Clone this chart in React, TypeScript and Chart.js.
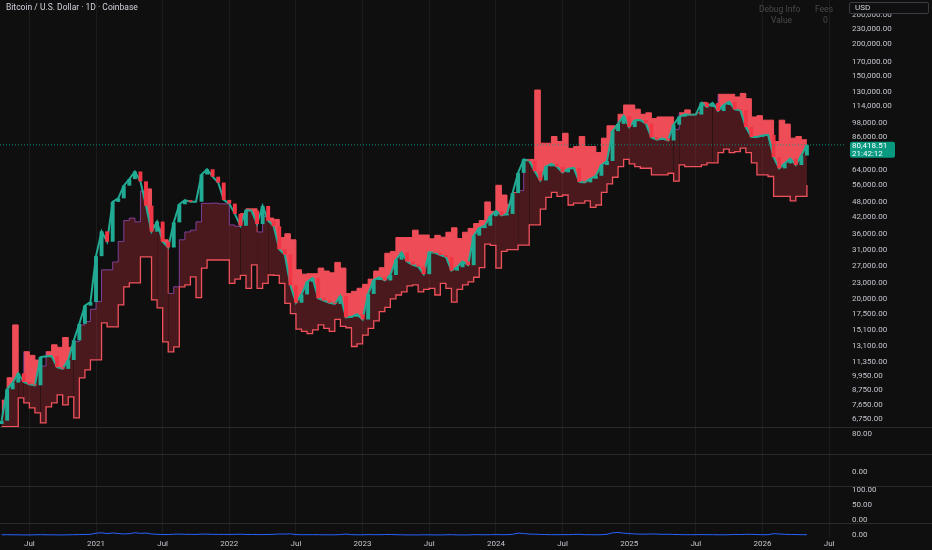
import { useEffect, useRef } from "react";
import { Chart, registerables } from "chart.js";

Chart.register(...registerables);

// semi-monthly sample dates (1st and 15th), 15 Apr 2020 .. 1 May 2026
const DATES: string[] = [];
for (let yr = 2020; yr <= 2026; yr++) {
  for (let m = 1; m <= 12; m++) {
    for (const d of [1, 15]) {
      if (yr === 2020 && (m < 4 || (m === 4 && d === 1))) continue;
      if (yr === 2026 && (m > 5 || (m === 5 && d === 15))) continue;
      DATES.push(`${yr}-${String(m).padStart(2, "0")}-${String(d).padStart(2, "0")}`);
    }
  }
}

// BTC close
const CLOSE = [
  6650, 8830, 9380, 10200, 9430, 9230, 9150, 11800, 11900, 11920, 10780, 10620, 11500, 13740, 15960, 18800, 19430,
  29400, 36800, 33500, 48000, 49600, 55600, 59000, 63200, 57800, 46400, 36700, 40200, 33500, 31800, 39900, 47000,
  48800, 48100, 48100, 61500, 64500, 60300, 57200, 48900,
  47300, 43100, 38700, 44500, 44400, 39300, 46300, 40500, 38500, 31300, 29800, 22600, 19300, 20800, 23300, 24100,
  20100, 19700, 19300, 19100, 20500, 16900, 17000, 17400,
  16600, 20900, 23700, 24300, 23600, 24800, 28500, 30400, 28000, 27200, 26800, 25000, 30500, 30300, 29700, 29200,
  25800, 26600, 28000, 27100, 35400, 37900, 38700, 42200,
  44200, 42500, 43100, 52000, 62400, 70500, 69700, 63400, 58300, 66200, 67700, 66000, 62700, 64700, 65300, 57600,
  57300, 59200, 60800, 67000, 69500, 91000, 97200, 104400,
  94400, 100500, 100600, 97500, 86000, 84300, 85100, 83600, 96500, 103700, 105800, 105500, 105700, 117700, 113300,
  117400, 109200, 115300, 118600, 110800, 110000, 94500, 86300, 86400,
  87500, 88000, 72000, 65000, 68000, 71000, 67000, 73000, 80418.51,
];

// upper stepped band
const UPPER = [
  8000, 9800, 15800, 9600, 12400, 12000, 11500, 10900, 12400, 13200, 12900, 14100, 12900, 13600, 15800, 16300, 18200,
  19500, 26000, 26000, 27900, 33600, 40600, 41500, 40100, 53000, 54000, 39000, 37700, 34100, 21000, 22300, 34100,
  36600, 37200, 40100, 47400, 47400, 47500, 47200, 47200,
  39000, 38500, 43200, 45100, 45100, 36600, 42100, 41500, 41000, 34800, 36000, 34100, 26000, 25000, 25100, 25100,
  26400, 25700, 25300, 27800, 26400, 21000, 21400, 22000,
  22800, 23900, 25700, 26500, 30200, 30700, 34800, 34800, 34800, 37200, 35600, 35600, 34400, 35500, 34900, 36500,
  38000, 34500, 36500, 37800, 39500, 40600, 48000, 44100,
  55800, 51100, 47000, 52300, 53200, 70500, 70500, 132000, 81600, 81600, 86700, 82900, 89300, 77900, 79200, 86700,
  79200, 79200, 75000, 85400, 95500, 95500, 106000, 115300,
  115300, 111000, 106000, 107400, 102000, 103500, 103500, 103500, 92500, 107400, 110300, 106000, 107400, 118000,
  115300, 115300, 127000, 127000, 127000, 124000, 128000, 122000, 103500, 104700,
  100500, 100500, 82900, 100500, 97000, 85400, 86700, 84200, 84200,
];

// lower stepped band
const LOWER = [
  6300, 6300, 6300, 8170, 7810, 7470, 7140, 6520, 7530, 7810, 8400, 7670, 8250, 6820, 9790, 10520, 11520,
  11520, 16100, 15520, 15520, 18930, 22270, 23090, 23090, 29200, 29200, 19800, 18430, 13560, 12390, 12960, 22300,
  22700, 24400, 20200, 26400, 28400, 28400, 28400, 28400,
  23000, 23900, 24700, 22000, 27200, 22000, 23000, 24800, 24700, 23000, 19200, 17500, 15200, 14900, 14600, 15100,
  15800, 15300, 14900, 16600, 15600, 15400, 13000, 13300,
  14400, 15300, 16400, 17800, 18500, 20000, 20700, 21300, 22500, 22700, 21300, 21800, 22000, 20700, 23000, 22000,
  19400, 21800, 22700, 23300, 24300, 26500, 32800, 32400,
  26400, 30700, 31200, 31200, 32500, 32500, 39000, 39000, 45000, 50000, 52300, 50500, 51100, 46700, 47500, 47500,
  48500, 45700, 46700, 52300, 56500, 60000, 66000, 70500,
  67700, 66000, 65100, 65100, 61300, 61300, 61300, 62200, 57900, 67100, 66000, 66000, 66000, 67100, 68300,
  68300, 74900, 77400, 74900, 75700, 78100, 74900, 68300, 61300,
  61300, 60400, 50500, 50500, 50500, 48500, 50500, 50500, 56000,
];

// bottom pane activity line
const ACTIVITY = [
  0.03, 0.04, 0.03, 0.03, 0.02, 0.02, 0.03, 0.04, 0.03, 0.03, 0.02, 0.02, 0.03, 0.04, 0.05, 0.06, 0.07,
  0.16, 0.2, 0.13, 0.18, 0.14, 0.1, 0.12, 0.2, 0.15, 0.17, 0.1,
  0.07, 0.06, 0.05, 0.08, 0.09, 0.07, 0.07, 0.06, 0.09, 0.08, 0.07, 0.06, 0.07,
  0.06, 0.07, 0.08, 0.06, 0.06, 0.05, 0.05, 0.06, 0.07, 0.1, 0.09, 0.11,
  0.05, 0.04, 0.04, 0.04, 0.04, 0.03, 0.03, 0.03, 0.05, 0.09, 0.04, 0.03,
  0.03, 0.05, 0.04, 0.04, 0.05, 0.06, 0.04, 0.03, 0.02, 0.02, 0.02, 0.03, 0.03, 0.02, 0.02, 0.03, 0.04, 0.02,
  0.02, 0.02, 0.04, 0.04, 0.03, 0.04,
  0.05, 0.04, 0.04, 0.07, 0.17, 0.14, 0.09, 0.08, 0.06, 0.05, 0.04, 0.04,
  0.05, 0.04, 0.06, 0.07, 0.04, 0.04, 0.03, 0.04,
  0.07, 0.19, 0.22, 0.17, 0.13, 0.1, 0.09, 0.08, 0.1, 0.09, 0.07, 0.08,
  0.06, 0.05, 0.04, 0.04, 0.04, 0.05, 0.04, 0.04, 0.03, 0.03, 0.04, 0.06, 0.05, 0.07, 0.07, 0.05,
  0.04, 0.04, 0.12, 0.1, 0.07, 0.06, 0.05, 0.04, 0.04,
];

const PRICE_TICKS = [
  260000, 230000, 200000, 170000, 150000, 130000, 114000, 98000, 86000, 64000, 56000, 48000, 42000, 36000, 31000,
  27000, 23000, 20000, 17500, 15100, 13100, 11350, 9950, 8750, 7650, 6750,
];
const PANE_A_TICKS = [80];
const PANE_B_TICKS = [0];
const PANE_C_TICKS = [100, 50, 0];
const PANE_D_TICKS = [0];
const TIME_TICKS = [2020.5, 2021, 2021.5, 2022, 2022.5, 2023, 2023.5, 2024, 2024.5, 2025, 2025.5, 2026, 2026.5];

const LAST_PRICE = 80418.51;
const COUNTDOWN = "21:42:12";

const XS = DATES.map((d) => {
  const [yr, m, day] = d.split("-").map(Number);
  return yr + (m - 1) / 12 + (day === 15 ? 1 / 24 : 0);
});

const X_MIN = 2020.2798;
const X_MAX = 2026.619;
const AXIS_W = 87;

const BG = "#0f0f0f";
const TEXT = "#c3c6ce";
const BRIGHT = "#ee4d58";
const BAND = "rgba(242, 54, 69, 0.26)";
const LOWER_LINE = "#f0525c";
const PURPLE = "rgba(140, 70, 170, 0.85)";
const GREEN = "#22ab94";
const RED = "#f23645";
const BLUE = "#2962ff";
const FONT = "Roboto, 'Noto Sans', sans-serif";

const fmt = (v: number) => v.toLocaleString("en-US", { minimumFractionDigits: 2, maximumFractionDigits: 2 });
const pts = (vals: number[]) => vals.map((v, i) => ({ x: XS[i], y: v }));
const fixedTicks = (values: number[]) => (scale: any) => {
  scale.ticks = values.map((value) => ({ value }));
};

const yAxis = (extra: any, weight: number, ticks: number[]) => ({
  position: "right",
  stack: "panes",
  stackWeight: weight,
  afterBuildTicks: fixedTicks(ticks),
  afterFit: (s: any) => {
    s.width = AXIS_W;
    s.paddingTop = 0;
    s.paddingBottom = 0;
  },
  grid: { display: false, drawTicks: false },
  border: { display: false },
  ticks: {
    color: TEXT,
    font: { family: FONT, size: 8 },
    padding: 7,
    autoSkip: false,
    callback: (v: any) => fmt(Number(v)),
  },
  ...extra,
});

const panesPlugin = {
  id: "panes",
  beforeDraw(chart: any) {
    const { ctx, width, height } = chart;
    ctx.save();
    ctx.fillStyle = BG;
    ctx.fillRect(0, 0, width, height);
    ctx.restore();
  },
  afterDraw(chart: any) {
    const { ctx, width, chartArea } = chart;
    ctx.save();
    ctx.strokeStyle = "#2a2a2a";
    ctx.lineWidth = 1;
    for (const id of ["yA", "yB", "yC", "yD"]) {
      const top = Math.round(chart.scales[id].top) + 0.5;
      ctx.beginPath();
      ctx.moveTo(0, top);
      ctx.lineTo(width, top);
      ctx.stroke();
    }
    // last price label
    const y = chart.scales.y.getPixelForValue(LAST_PRICE);
    const x0 = chartArea.right + 5;
    ctx.fillStyle = "#089981";
    ctx.beginPath();
    ctx.roundRect(x0, y - 3, 45, 16, 2);
    ctx.fill();
    ctx.fillStyle = "#ffffff";
    ctx.font = `8px ${FONT}`;
    ctx.textBaseline = "middle";
    ctx.textAlign = "left";
    ctx.fillText(fmt(LAST_PRICE), x0 + 2, y + 1);
    ctx.fillText(COUNTDOWN, x0 + 2, y + 9);
    ctx.restore();
  },
};

export default function App() {
  const canvasRef = useRef<HTMLCanvasElement>(null);
  const chartRef = useRef<Chart | null>(null);

  useEffect(() => {
    document.body.style.margin = "0";
    document.body.style.background = BG;
    if (!canvasRef.current) return;
    if (chartRef.current) chartRef.current.destroy();

    chartRef.current = new Chart(canvasRef.current, {
      type: "line",
      data: {
        datasets: [
          {
            label: "Lower",
            data: pts(LOWER),
            stepped: true,
            borderColor: LOWER_LINE,
            borderWidth: 1.3,
            pointRadius: 0,
            fill: { target: 1, above: BAND, below: BAND },
            order: 6,
          },
          {
            label: "Upper",
            data: pts(UPPER),
            stepped: true,
            borderWidth: 1,
            borderColor: PURPLE,
            pointRadius: 0,
            segment: {
              borderColor: (c: any) => (UPPER[c.p0DataIndex] > CLOSE[c.p0DataIndex] ? BRIGHT : PURPLE),
            },
            fill: { target: 2, above: BRIGHT, below: "rgba(0,0,0,0)" },
            order: 5,
          },
          {
            label: "Close",
            data: pts(CLOSE),
            borderColor: GREEN,
            borderWidth: 2,
            pointRadius: 0,
            order: 3,
          },
          {
            type: "bar",
            label: "Candles",
            data: CLOSE.map((c, i) => ({ x: XS[i], y: [i ? CLOSE[i - 1] : c * 0.97, c] })),
            backgroundColor: CLOSE.map((c, i) => (i && c < CLOSE[i - 1] ? RED : GREEN)),
            barPercentage: 0.7,
            categoryPercentage: 1,
            grouped: false,
            order: 2,
          } as any,
          {
            label: "Last",
            data: [
              { x: X_MIN, y: LAST_PRICE },
              { x: X_MAX, y: LAST_PRICE },
            ],
            borderColor: "rgba(8, 153, 129, 0.9)",
            borderDash: [1, 2],
            borderWidth: 1,
            pointRadius: 0,
            order: 0,
          },
          {
            label: "Activity",
            data: pts(ACTIVITY),
            yAxisID: "yD",
            borderColor: BLUE,
            borderWidth: 1,
            pointRadius: 0,
            order: 1,
          },
        ],
      },
      options: {
        animation: false,
        responsive: true,
        maintainAspectRatio: false,
        layout: { padding: 0 },
        plugins: {
          legend: { display: false },
          tooltip: { enabled: false },
        },
        scales: {
          x: {
            type: "linear",
            min: X_MIN,
            max: X_MAX,
            offset: false,
            afterBuildTicks: fixedTicks(TIME_TICKS),
            afterFit: (s: any) => {
              s.height = 13;
              s.paddingLeft = 0;
              s.paddingRight = 0;
            },
            grid: { color: "rgba(255,255,255,0.055)", drawTicks: false, offset: false },
            border: { display: false },
            ticks: {
              color: TEXT,
              font: { family: FONT, size: 8 },
              padding: 2,
              maxRotation: 0,
              autoSkip: false,
              callback: (v: any) => (Number.isInteger(Number(v)) ? String(v) : "Jul"),
            },
          },
          y: yAxis({ type: "logarithmic", min: 6280, max: 297750 }, 427, PRICE_TICKS),
          yA: yAxis({ type: "linear", min: 0, max: 108 }, 27, PANE_A_TICKS),
          yB: yAxis({ type: "linear", min: -0.78, max: 1 }, 32, PANE_B_TICKS),
          yC: yAxis({ type: "linear", min: -10, max: 113 }, 37, PANE_C_TICKS),
          yD: yAxis({ type: "linear", min: -0.15, max: 1 }, 14, PANE_D_TICKS),
        } as any,
      },
      plugins: [panesPlugin],
    });

    return () => {
      if (chartRef.current) {
        chartRef.current.destroy();
        chartRef.current = null;
      }
    };
  }, []);

  const dim = { position: "absolute" as const, color: "#4a4a4a", fontSize: 8.5, fontFamily: FONT, lineHeight: "10px" };

  return (
    <div style={{ position: "fixed", left: 0, top: 0, width: 932, height: 550, background: BG, overflow: "hidden" }}>
      <div style={{ position: "absolute", left: 0, top: 0, width: 932, height: 550 }}>
        <canvas ref={canvasRef}></canvas>
      </div>
      <div style={{ position: "absolute", left: 6, top: 2, color: "#d1d4dc", fontSize: 8.5, fontFamily: FONT, lineHeight: "10px" }}>
        Bitcoin / U.S. Dollar · 1D · Coinbase
      </div>
      <div style={{ ...dim, left: 759, top: 4 }}>Debug Info</div>
      <div style={{ ...dim, left: 815, top: 4 }}>Fees</div>
      <div style={{ ...dim, left: 771, top: 15 }}>Value</div>
      <div style={{ ...dim, left: 823, top: 15 }}>0</div>
      <div
        style={{
          position: "absolute",
          left: 849,
          top: 2,
          width: 80,
          height: 12,
          boxSizing: "border-box",
          border: "1px solid #3a3d45",
          borderRadius: 2,
          background: BG,
          color: "#d1d4dc",
          fontSize: 8,
          fontFamily: FONT,
          lineHeight: "10px",
          paddingLeft: 5,
        }}
      >
        USD
      </div>
    </div>
  );
}
